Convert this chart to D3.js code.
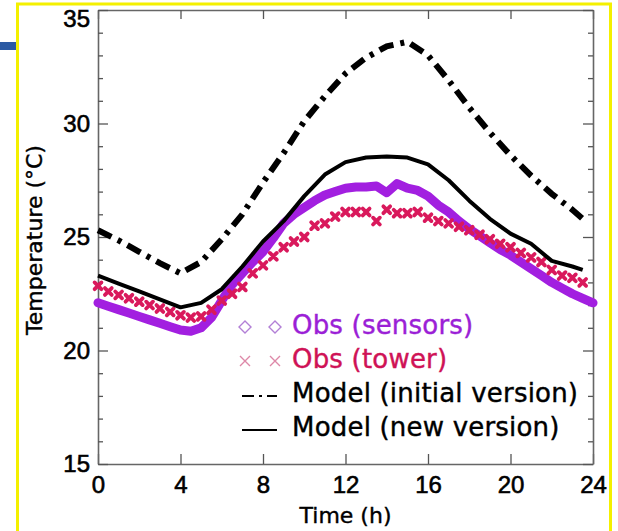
<!DOCTYPE html>
<html>
<head>
<meta charset="utf-8">
<script src="https://cdn.jsdelivr.net/npm/d3@7"></script>
<style>
  body { margin:0; background:#fff; }
  svg { display:block; }
  .axis .domain { stroke:#666; stroke-width:1.6; }
  .axis line { stroke:#555; stroke-width:1.3; }
  .axis text { font-family:"Liberation Sans", Arial, sans-serif; font-size:24px; fill:#000; stroke:#000; stroke-width:0.6px; }
</style>
</head>
<body>
<svg id="chart"></svg>
<script>

	/*
		Data
	 */

	var xTicks = [0, 4, 8, 12, 16, 20, 24];
	var yTicks = [15, 20, 25, 30, 35];
	var yMinor = [16,17,18,19,21,22,23,24,26,27,28,29,31,32,33,34];

	// model runs, hourly (last sample at 23.5 h)
	var modelTime = [0,1,2,3,4,5,6,7,8,9,10,11,12,13,14,15,16,17,18,19,20,21,22,23,23.5];
	var modelInit = [25.3,24.85,24.35,23.85,23.4,23.9,24.9,26.0,27.4,28.7,30.1,31.2,32.2,32.9,33.4,33.6,33.0,31.9,30.7,29.6,28.6,27.7,26.9,26.2,25.8];
	var modelNew  = [23.3,22.95,22.6,22.25,21.9,22.1,22.7,23.7,24.8,25.7,26.8,27.75,28.3,28.5,28.55,28.5,28.2,27.5,26.6,25.8,25.15,24.7,23.95,23.7,23.55];

	// sensors, every 30 min
	var sensorTime = d3.range(0, 24.01, 0.5);
	var sensorObs = [22.1,21.95,21.8,21.65,21.5,21.35,21.2,21.05,20.9,20.85,21.0,21.45,22.2,22.9,23.4,23.9,
	                 24.35,24.95,25.6,26.0,26.3,26.6,26.85,27.0,27.15,27.2,27.2,27.25,26.95,27.35,27.15,27.05,
	                 26.8,26.4,26.1,25.7,25.35,25.05,24.75,24.45,24.2,23.9,23.6,23.3,23.0,22.75,22.5,22.3,22.1];

	// tower, every 30 min up to 23.5 h
	var towerTime = d3.range(0, 23.51, 0.5);
	var towerObs = [22.85,22.6,22.45,22.3,22.15,22.0,21.85,21.7,21.55,21.45,21.5,21.8,22.2,22.5,22.8,23.4,
	                23.75,24.15,24.55,24.8,25.0,25.5,25.6,25.9,26.1,26.1,26.1,25.7,26.2,26.05,26.05,26.1,
	                25.85,25.7,25.6,25.45,25.3,25.1,24.9,24.7,24.55,24.3,24.1,23.9,23.55,23.3,23.2,23.0];

	var legendLabels = ["Obs (sensors)", "Obs (tower)", "Model (initial version)", "Model (new version)"];

	/*
		Container
	 */

	var container = { width:618, height:531 };
	var plot = { left:98, right:593, top:10, bottom:464 };

	var svg = d3.select('#chart').attr('width', container.width).attr('height', container.height);

	var x = d3.scaleLinear().domain([0, 24]).range([plot.left, plot.right]);
	var y = d3.scaleLinear().domain([15, 35]).range([plot.bottom, plot.top]);

	function zip(t, v){
		return t.map(function(d, i){ return { t:d, v:v[i] }; });
	}

	/*
		Slide decoration (blue bar, yellow frame)
	 */

	svg.append('rect').attr('x', 0).attr('y', 42).attr('width', 17).attr('height', 8).attr('fill', '#2b5aa3');
	svg.append('path')
		.attr('d', 'M17.5,540 V4 H610.5 V540')
		.attr('fill', 'none').attr('stroke', '#f4f000').attr('stroke-width', 3);

	/*
		Axes
	 */

	svg.append('g').attr('class', 'axis').attr('transform', 'translate(0,' + plot.bottom + ')')
		.call(d3.axisBottom(x).tickValues(xTicks).tickSize(-10).tickSizeOuter(0).tickPadding(12));

	svg.append('g').attr('class', 'axis').attr('transform', 'translate(0,' + plot.top + ')')
		.call(d3.axisTop(x).tickValues(xTicks).tickSize(-9).tickSizeOuter(0).tickFormat(''));

	var gy = svg.append('g').attr('class', 'axis').attr('transform', 'translate(' + plot.left + ',0)')
		.call(d3.axisLeft(y).tickValues(yTicks).tickSize(-10).tickSizeOuter(0).tickPadding(8));

	// keep the top label inside the frame, as in the original
	gy.selectAll('.tick text').filter(function(d){ return d === 35; }).attr('dy', '0.7em');

	svg.append('g').attr('class', 'axis').attr('transform', 'translate(' + plot.left + ',0)')
		.call(d3.axisLeft(y).tickValues(yMinor).tickSize(-5).tickFormat(''))
		.select('.domain').remove();

	svg.append('g').attr('class', 'axis').attr('transform', 'translate(' + plot.right + ',0)')
		.call(d3.axisRight(y).tickValues(yTicks).tickSize(-10).tickSizeOuter(0).tickFormat(''));

	svg.append('g').attr('class', 'axis').attr('transform', 'translate(' + plot.right + ',0)')
		.call(d3.axisRight(y).tickValues(yMinor).tickSize(-5).tickFormat(''))
		.select('.domain').remove();

	svg.append('text')
		.attr('x', (plot.left + plot.right) / 2).attr('y', 523)
		.attr('text-anchor', 'middle')
		.style('font-family', '"DejaVu Sans", sans-serif').style('font-size', '22px')
		.attr('stroke', '#000').attr('stroke-width', 0.4)
		.text('Time (h)');

	svg.append('text')
		.attr('transform', 'translate(42,240) rotate(-90)')
		.attr('text-anchor', 'middle')
		.style('font-family', '"DejaVu Sans", sans-serif').style('font-size', '22px')
		.attr('stroke', '#000').attr('stroke-width', 0.4)
		.text('Temperature (°C)');

	/*
		Series
	 */

	var line = d3.line().x(function(d){ return x(d.t); }).y(function(d){ return y(d.v); });

	svg.append('path').datum(zip(sensorTime, sensorObs))
		.attr('d', line).attr('fill', 'none')
		.attr('stroke', '#a21fe0').attr('stroke-width', 9)
		.attr('stroke-linejoin', 'round').attr('stroke-linecap', 'round');

	svg.append('g').selectAll('path').data(zip(towerTime, towerObs)).enter().append('path')
		.attr('transform', function(d){ return 'translate(' + x(d.t) + ',' + y(d.v) + ')'; })
		.attr('d', 'M-3.4,-3.4L3.4,3.4M-3.4,3.4L3.4,-3.4')
		.attr('stroke', '#d9195c').attr('stroke-width', 3.8).attr('stroke-linecap', 'round');

	svg.append('path').datum(zip(modelTime, modelInit))
		.attr('d', line).attr('fill', 'none')
		.attr('stroke', '#000').attr('stroke-width', 6)
		.attr('stroke-dasharray', '15,7,4,7');

	svg.append('path').datum(zip(modelTime, modelNew))
		.attr('d', line).attr('fill', 'none')
		.attr('stroke', '#000').attr('stroke-width', 4)
		.attr('stroke-linejoin', 'round');

	/*
		Legend
	 */

	var legend = svg.append('g').style('font-family', '"DejaVu Sans", sans-serif')
		.style('font-size', '26px').style('letter-spacing', '0.2px');
	var legendColor = ['#9b1fd6', '#cf1256', '#000', '#000'];
	var rowY = [334, 368, 402, 436];

	legend.selectAll('text').data(legendLabels).enter().append('text')
		.attr('x', 292).attr('y', function(d, i){ return rowY[i]; })
		.attr('fill', function(d, i){ return legendColor[i]; })
		.attr('stroke', function(d, i){ return legendColor[i]; }).attr('stroke-width', 0.4)
		.text(function(d){ return d; });

	[245, 275].forEach(function(cx){
		legend.append('path')
			.attr('d', 'M' + cx + ',' + (rowY[0] - 13) + 'l6,6l-6,6l-6,-6z')
			.attr('fill', 'none').attr('stroke', '#b27fd6').attr('stroke-width', 1.4);
		legend.append('path')
			.attr('d', 'M' + (cx - 5) + ',' + (rowY[1] - 12) + 'l10,10M' + (cx - 5) + ',' + (rowY[1] - 2) + 'l10,-10')
			.attr('stroke', '#dd88a8').attr('stroke-width', 1.4);
	});

	legend.append('path').attr('d', 'M242,' + (rowY[2] - 6) + 'H277')
		.attr('stroke', '#000').attr('stroke-width', 2).attr('stroke-dasharray', '12,5,3,5');
	legend.append('path').attr('d', 'M242,' + (rowY[3] - 6) + 'H277')
		.attr('stroke', '#000').attr('stroke-width', 2);

</script>
</body>
</html>
